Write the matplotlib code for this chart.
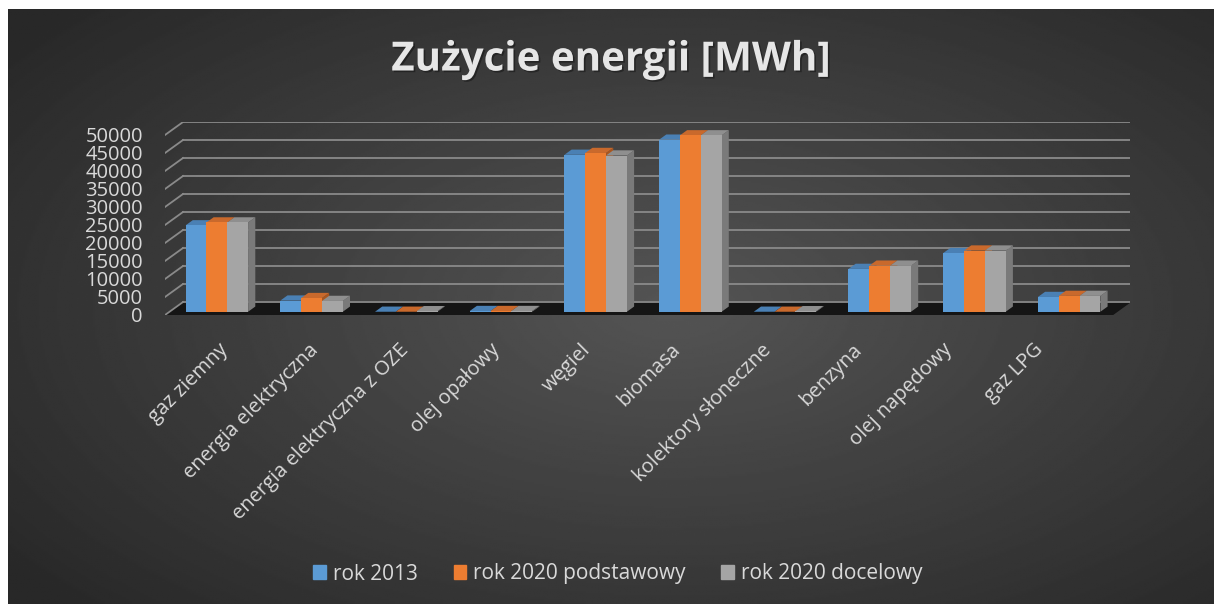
import numpy as np
import matplotlib
matplotlib.use('Agg')
import matplotlib.pyplot as plt
from matplotlib.patches import Patch
import matplotlib.patheffects as pe

plt.rcParams['font.family'] = ['Open Sans', 'DejaVu Sans']

categories = ['gaz ziemny', 'energia elektryczna', 'energia elektryczna z OZE',
              'olej opałowy', 'węgiel', 'biomasa', 'kolektory słoneczne',
              'benzyna', 'olej napędowy', 'gaz LPG']
series = ['rok 2013', 'rok 2020 podstawowy', 'rok 2020 docelowy']
rok_2013 = [24000, 3100, 0, 200, 43600, 47800, 0, 11900, 16300, 4100]
rok_2020_podst = [24800, 3800, 0, 200, 44100, 49000, 0, 12800, 17000, 4400]
rok_2020_doc = [24800, 3000, 150, 200, 43400, 49000, 150, 12800, 17000, 4400]
yticks = list(range(0, 50001, 5000))

front_cols = ['#5B9BD5', '#ED7D31', '#A5A5A5']
top_cols = ['#4a80b4', '#c9692c', '#8f8f8f']
side_cols = ['#3f6d98', '#a9561f', '#7a7a7a']
txt = '#d9d9d9'

W, H = 1214, 604
fig = plt.figure(figsize=(W / 100, H / 100), dpi=100, facecolor='white')

# background radial gradient
bg = fig.add_axes([8 / W, 0, 1 - 8 / W, 1 - 9 / H])
yy, xx = np.mgrid[-1:1:300j, -1:1:600j]
r = np.sqrt(((xx - 0.1) * 0.95) ** 2 + (yy * 0.9) ** 2)
g = 0.33 - 0.17 * np.clip(r / 1.3, 0, 1)
bg.imshow(g, cmap='gray', vmin=0, vmax=1, aspect='auto', extent=[0, 1, 0, 1])
bg.axis('off')

# geometry of the pseudo-3D box (in data units)
ddx = 18 / 94.7
ddy = 13 * 50000 / 180
x0, x1 = -0.5, 9.5

ax = fig.add_axes([165 / W, (H - 315) / H, 965 / W, 193 / H])
ax.patch.set_alpha(0)
ax.set_xlim(x0, x1 + ddx)
ax.set_ylim(0, 50000 + ddy)
for s in ax.spines.values():
    s.set_visible(False)

# floor
ax.fill([x0, x1, x1 + ddx, x0 + ddx], [0, 0, ddy, ddy], color='#151515', zorder=1)
# gridlines on back wall
for v in yticks:
    ax.plot([x0, x0 + ddx], [v, v + ddy], color='#8a8a8a', lw=1.3, zorder=2)
    ax.plot([x0 + ddx, x1 + ddx], [v + ddy, v + ddy], color='#8a8a8a', lw=1.3, zorder=2)

# bars
w = 0.22
fx = 0.25 * ddx
fy = 0.25 * ddy
bdx = 0.4 * ddx
bdy = 0.4 * ddy
data = [rok_2013, rok_2020_podst, rok_2020_doc]
idx = np.arange(len(categories))
for i in idx:
    for j in range(3):
        v = data[j][i]
        c = i + fx + (j - 1) * w
        l, rr = c - w / 2, c + w / 2
        z = 3 + i * 10 + j * 3
        ax.fill([rr, rr + bdx, rr + bdx, rr], [fy, fy + bdy, fy + v + bdy, fy + v],
                color=side_cols[j], lw=0, zorder=z)
        ax.fill([l, rr, rr + bdx, l + bdx], [fy + v, fy + v, fy + v + bdy, fy + v + bdy],
                color=top_cols[j], lw=0, zorder=z + 1)
        ax.bar(c, v, width=w, bottom=fy, color=front_cols[j], lw=0, zorder=z + 2)

ax.set_yticks(yticks)
ax.set_yticklabels([str(v) for v in yticks], color=txt, fontsize=14.5)
# category labels sit on a slightly narrower spacing than the bars
ax.set_xticks(0.06 + 0.956 * idx)
ax.set_xticklabels(categories, rotation=45, ha='right', rotation_mode='anchor',
                   color=txt, fontsize=14.5)
ax.tick_params(axis='y', length=0, pad=16)
ax.tick_params(axis='x', length=0, pad=18)

fig.text(0.503, 1 - 60 / H, 'Zużycie energii [MWh]', ha='center', va='center',
         fontsize=29, fontweight='bold', color='#e6e6e6',
         path_effects=[pe.withSimplePatchShadow(offset=(1.2, -1.2), shadow_rgbFace='black', alpha=0.35)])

handles = [Patch(color=c) for c in front_cols]
fig.legend(handles, series, loc='center', bbox_to_anchor=(618 / W, 1 - 574 / H),
           ncol=3, frameon=False, labelcolor=txt, fontsize=15,
           handlelength=0.6, handleheight=0.65, handletextpad=0.35, columnspacing=1.7)

fig.savefig('out.png', dpi=100)
